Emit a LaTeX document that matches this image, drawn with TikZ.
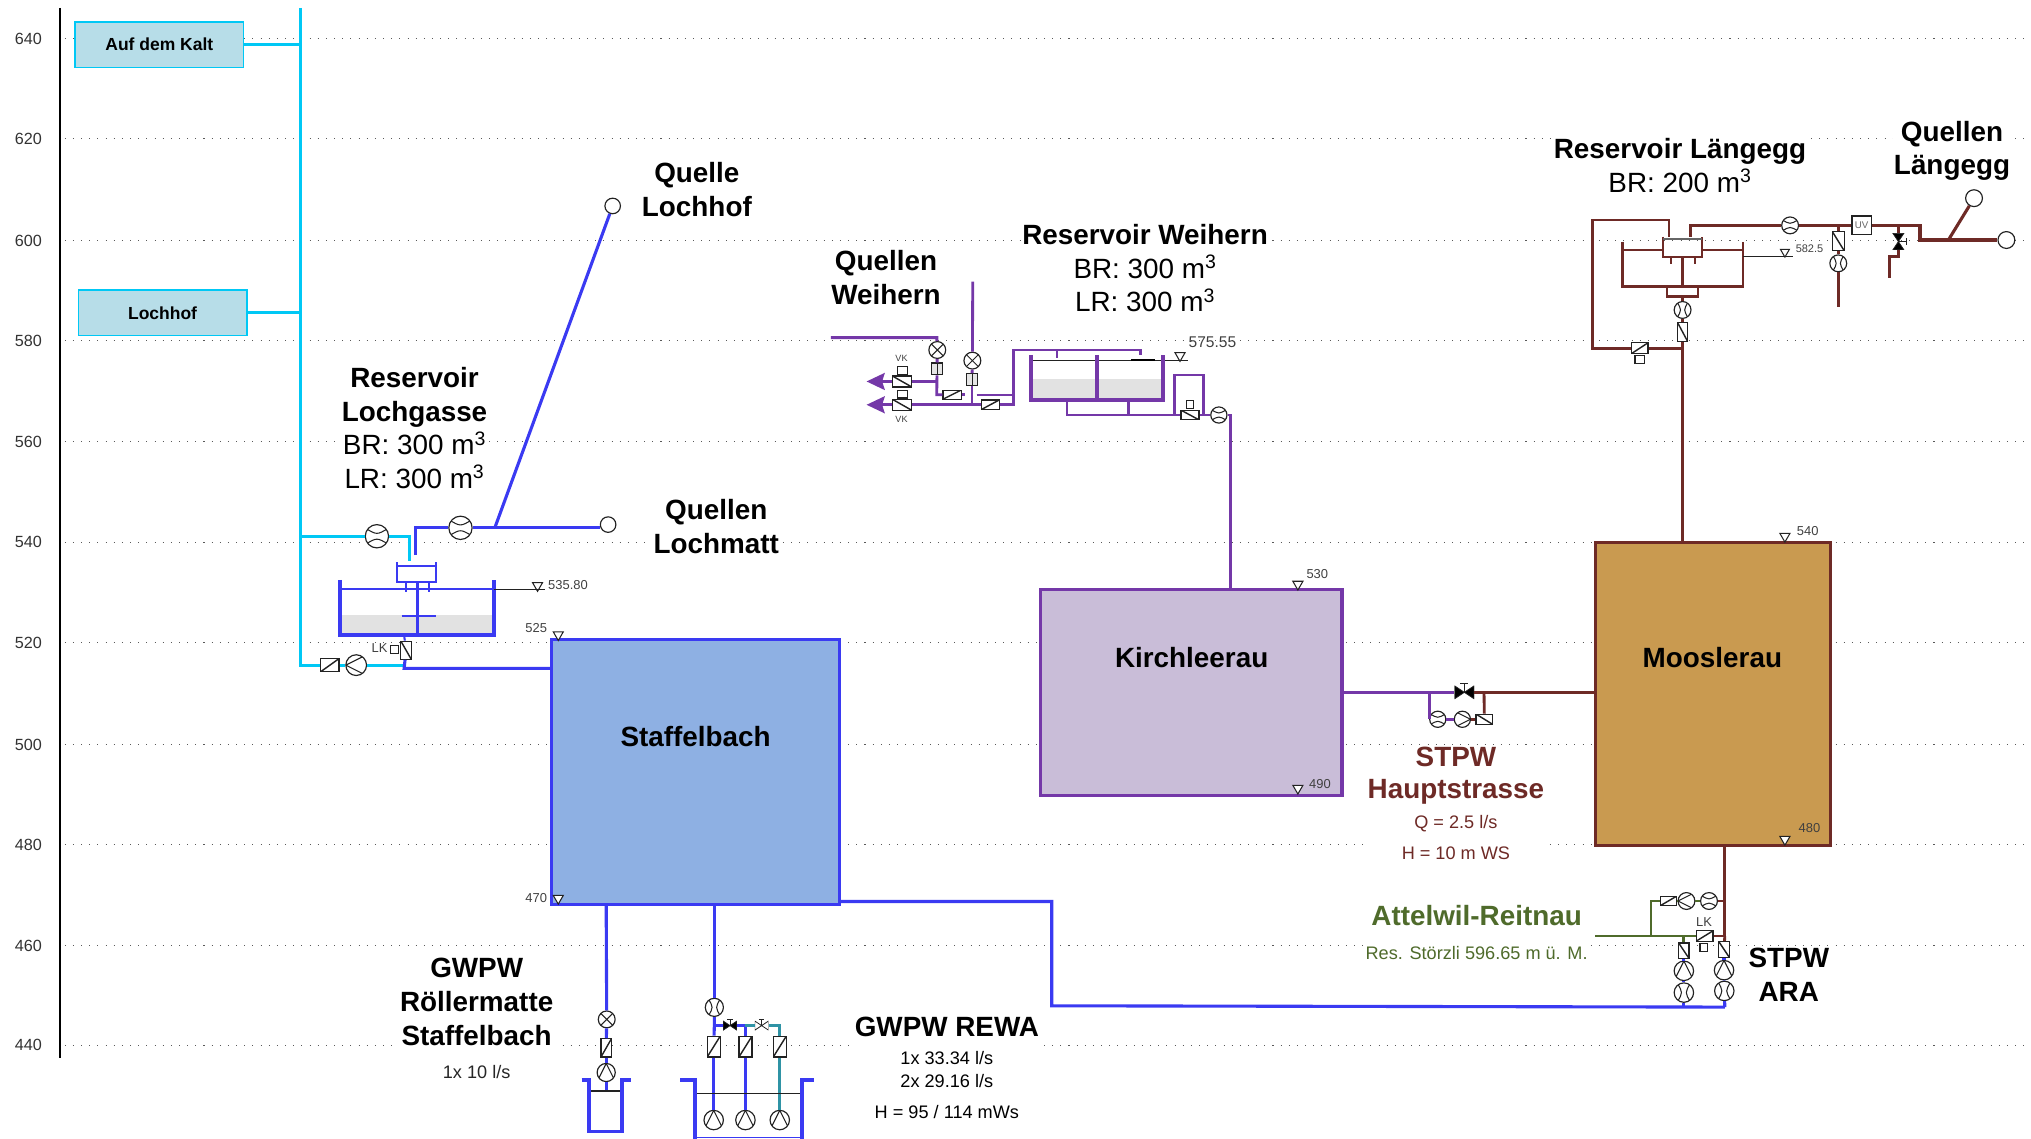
\documentclass[tikz,border=0pt]{standalone}
\usepackage{fontspec}
\setmainfont{Liberation Sans}
\usepackage{tikz}
\usetikzlibrary{arrows.meta, positioning, shapes.geometric}
\definecolor{wcyan}{HTML}{00C8F5}
\definecolor{wblue}{HTML}{3A3AF2}
\definecolor{wteal}{HTML}{2F93A5}
\definecolor{wpurple}{HTML}{7438A8}
\definecolor{wbrown}{HTML}{6E2A26}
\definecolor{wgreen}{HTML}{4F6B2B}
\definecolor{symb}{HTML}{222222}
\definecolor{staffill}{HTML}{8EB0E3}
\definecolor{kirchfill}{HTML}{C9BDD8}
\definecolor{moosfill}{HTML}{C99A50}
\definecolor{hoffill}{HTML}{B7DDE8}
\definecolor{waterfill}{HTML}{E2E2E2}
\newcommand{\ppb}{path picture bounding box}
\newcommand{\smalltxt}{\fontsize{14}{17}\selectfont}
\begin{document}
\begin{tikzpicture}[x=1pt, y=-1pt, >=Stealth,
  griddot/.style={draw=black!65, line width=.7pt, dash pattern=on .8pt off 5.5pt},
  ticklab/.style={font=\fontsize{12.5}{15}\selectfont, text=black!80},
  label/.style={font=\fontsize{21.5}{26}\selectfont\bfseries, align=center, fill=white, inner sep=1pt},
  small/.style={font=\smalltxt, align=center, fill=white, inner sep=1pt, text=black!85},
  tag/.style={font=\fontsize{10}{12}\selectfont, text=black!75, inner sep=0pt},
  hbox/.style={rectangle, draw=wcyan, fill=hoffill, line width=1.3pt, minimum width=130pt, minimum height=35pt, font=\fontsize{13.5}{16}\selectfont\bfseries},
  zone/.style={rectangle, fill=#1, line width=2.5pt, inner sep=0pt},
  zonetxt/.style={font=\fontsize{21.5}{26}\selectfont\bfseries},
  pcyan/.style={draw=wcyan, line width=2.2pt},
  pblue/.style={draw=wblue, line width=2.4pt},
  pteal/.style={draw=wteal, line width=2pt},
  ppurple/.style={draw=wpurple, line width=2.2pt},
  pbrown/.style={draw=wbrown, line width=2.2pt},
  pgreen/.style={draw=wgreen, line width=2.2pt},
  meter/.style={circle, draw=symb, fill=white, line width=.9pt, inner sep=0pt, minimum size=#1, path picture={\draw[symb, line width=.8pt] (-.35*#1,#1/2) .. controls (-.05*#1,0pt) .. (-.35*#1,-#1/2) (.35*#1,#1/2) .. controls (.05*#1,0pt) .. (.35*#1,-#1/2);}},
  meter/.default=14pt,
  xmeter/.style={circle, draw=symb, fill=white, line width=.9pt, inner sep=0pt, minimum size=13pt, path picture={\draw[symb, line width=.8pt] (\ppb.north west) -- (\ppb.south east) (\ppb.north east) -- (\ppb.south west);}},
  pump/.style={circle, draw=symb, fill=white, line width=.9pt, inner sep=0pt, minimum size=#1, path picture={\draw[symb, line width=.8pt] (-#1/2,#1/2) -- (#1/2,0pt) -- (-#1/2,-#1/2);}},
  pump/.default=14pt,
  vbox/.style={rectangle, draw=symb, fill=white, line width=.9pt, inner sep=0pt},
  slash/.style={vbox, path picture={\draw[symb, line width=1.1pt] (\ppb.south west) -- (\ppb.north east);}},
  bslash/.style={vbox, path picture={\draw[symb, line width=1.1pt] (\ppb.north west) -- (\ppb.south east);}},
  wide/.style={minimum width=14pt, minimum height=8pt},
  tall/.style={minimum width=9pt, minimum height=14pt},
  sqbox/.style={vbox, minimum size=6pt},
  filterbox/.style={vbox, fill=black!10, minimum width=9pt, minimum height=9pt, path picture={\draw[symb, line width=.6pt] (\ppb.north) -- (\ppb.south);}},
  source/.style={circle, draw=symb, fill=white, line width=.9pt, inner sep=0pt, minimum size=#1},
  source/.default=13pt,
  gate/.style 2 args={rectangle, inner sep=0pt, minimum width=15pt, minimum height=18pt, scale=#1, path picture={\draw[symb, line width=.8pt] (0pt,0pt) -- (0pt,7pt) (-3pt,7pt) -- (3pt,7pt); \filldraw[draw=symb, fill=#2, line width=.6pt] (-7.5pt,-5pt) -- (7.5pt,5pt) -- (7.5pt,-5pt) -- (-7.5pt,5pt) -- cycle;}},
  lvl/.style={regular polygon, regular polygon sides=3, shape border rotate=180, draw=symb, fill=white, line width=.8pt, inner sep=0pt, minimum size=9pt}]
  \useasboundingbox (0,0) rectangle (1568,878.6);
  \foreach \yy/\lab in {30/640,107/620,186/600,263/580,341/560,418.5/540,496/520,575/500,652/480,730/460,807/440} {
    \draw[griddot] (50,\yy) -- (1568,\yy);
    \node[ticklab] (t\lab) at (22,\yy) {\lab};
  }
  \coordinate (axtop) at (46.5,6);
  \coordinate (axbot) at (46.5,817);
  \draw[line width=1.2pt, black] (axtop) -- (axbot);

  \node[label] (qhof) at (538,146.5) {Quelle\\Lochhof};
  \node[label] (qmatt) at (553,406.5) {Quellen\\Lochmatt};
  \node[label] (qwei) at (684,214.5) {Quellen\\Weihern};
  \node[label] (qlae) at (1507,116.5) {Quellen\\Längegg};
  \node[label] (rlg) at (320,330.5) {Reservoir\\Lochgasse\\\mdseries BR: 300 m\textsuperscript{3}\\\mdseries LR: 300 m\textsuperscript{3}};
  \node[label] (rwe) at (884,207) {Reservoir Weihern\\\mdseries BR: 300 m\textsuperscript{3}\\\mdseries LR: 300 m\textsuperscript{3}};
  \node[label] (rla) at (1297,128) {Reservoir Längegg\\\mdseries BR: 200 m\textsuperscript{3}};
  \node[label, text=wbrown] (stpwh) at (1124,620) {STPW\\[-1pt]Hauptstrasse\\[-3pt]{\smalltxt\mdseries Q = 2.5 l/s}\\[-2pt]{\smalltxt\mdseries H = 10 m WS}};
  \node[label, text=wgreen] (att) at (1140,706.5) {Attelwil-Reitnau};
  \node[small, text=wgreen, below=14pt of att] (res) {Res. Störzli 596.65 m ü. M.};
  \node[label] (stpwa) at (1381,752.5) {STPW\\ARA};
  \node[label] (gwr) at (368,773.5) {GWPW\\Röllermatte\\Staffelbach};
  \node[small] (gwrq) at (368,828) {1x 10 l/s};
  \node[label] (gwre) at (731,824.5) {GWPW REWA\\[-5pt]{\smalltxt\mdseries 1x 33.34 l/s}\\[-8pt]{\smalltxt\mdseries 2x 29.16 l/s}\\[-2pt]{\smalltxt\mdseries H = 95 / 114 mWs}};

  \node[hbox] (kalt) at (123,34.5) {Auf dem Kalt};
  \node[hbox] (lochhof) at (125.5,241.5) {Lochhof};
  \node[zone=staffill, draw=wblue, minimum width=222pt, minimum height=204pt] (staff) at (537,596) {};
  \node[zone=kirchfill, draw=wpurple, minimum width=233pt, minimum height=159pt] (kirch) at (919.5,534.5) {};
  \node[zone=moosfill, draw=wbrown, minimum width=181pt, minimum height=234pt] (moos) at (1322.5,536) {};
  \node[zonetxt] (tstaff) at (537,568.5) {Staffelbach};
  \node[zonetxt] (tkirch) at (920,508) {Kirchleerau};
  \node[zonetxt] (tmoos) at (1322,508) {Mooslerau};

  \coordinate (ctop) at (232,6);
  \coordinate (cbot) at (232,513.5);
  \coordinate (ckalt) at (232,34.5);
  \coordinate (cloch) at (232,241.5);
  \coordinate (cbra) at (232,414);
  \coordinate (cin) at (316,433);
  \coordinate (cout) at (313,513.5);
  \node[meter=18pt, rotate=90] (mlg1) at (291,414) {};
  \node[meter=18pt, rotate=90] (mlg2) at (355.5,407.5) {};
  \node[source=12pt] (smatt) at (469.5,405) {};
  \node[source=12pt] (shof) at (473,159) {};
  \coordinate (bin) at (320.8,428.6);
  \coordinate (bjoin) at (382,407.5);
  \node[slash, wide, minimum height=10pt] (vlg) at (254.7,513.5) {};
  \node[pump=16pt, rotate=180] (plg) at (275,513.5) {};
  \node[bslash, minimum width=8pt, minimum height=14pt] (vlk) at (313.5,502) {};
  \node[sqbox] (slk) at (304.5,501.5) {};
  \node[tag] (tlk) at (293,500) {LK};
  \draw[pcyan] (ctop) -- (cbot) -- (vlg);
  \draw[pcyan] (vlg) -- (plg);
  \draw[pcyan] (plg) -- (cout);
  \draw[pcyan] (kalt) -- (ckalt);
  \draw[pcyan] (lochhof) -- (cloch);
  \draw[pcyan] (cbra) -- (mlg1);
  \draw[pcyan] (mlg1) -| (cin);
  \draw[pblue] (bin) |- (mlg2);
  \draw[pblue] (mlg2) -- (smatt.west |- mlg2);
  \draw[pblue] (bjoin) -- (shof);
  \draw[pblue] (vlk) -- (312,516) -- (staff.west |- 0,516);

  \fill[waterfill] (262.8,475) rectangle (381.3,490.5);
  \draw[wblue, line width=1pt] (262.8,454.8) -- (381.3,454.8);
  \draw[wblue, line width=3pt, line join=miter] (262.8,447.6) -- (262.8,490.5) -- (381.3,490.5) -- (381.3,447.6);
  \draw[wblue, line width=1.6pt] (306.5,434) -- (306.5,449) -- (336.6,449) -- (336.6,434);
  \draw[wblue, line width=1pt] (306.5,437) -- (336.6,437);
  \draw[wblue, line width=1.6pt] (313.6,449) -- (313.6,457);
  \draw[wblue, line width=1.6pt] (331,449) -- (331,457);
  \draw[wblue, line width=2.4pt] (322,449) -- (322,490.5);
  \draw[wblue, line width=2pt] (310,475.6) -- (336.6,475.6);
  \draw[wblue, line width=1.6pt] (312,490.5) -- (vlk);
  \node[lvl] (tlg) at (415,452) {};
  \draw[symb, line width=.8pt] (381.3,454.8) -- (420.7,454.8);
  \node[tag, right=5pt of tlg] {535.80};
  \node[lvl] (tst) at (431,490) {};
  \node[tag] at (414,485) {525};
  \node[lvl] (tsb) at (431,693.5) {};
  \node[tag] at (414,693) {470};

  \node[xmeter] (mrol) at (468.4,787) {};
  \node[slash, tall, minimum width=8pt] (vrol) at (468,809) {};
  \node[pump, rotate=90] (prol) at (468,828) {};
  \coordinate (srol) at (468,698);
  \coordinate (brol) at (468,842.3);
  \draw[pblue] (srol) -- (mrol);
  \draw[pblue] (mrol) -- (vrol);
  \draw[pblue] (vrol) -- (prol);
  \draw[pblue] (prol) -- (brol);
  \draw[symb, line width=.9pt] (455,842.3) -- (480,842.3);
  \draw[wblue, line width=3pt] (449,834) -- (455,834) -- (455,873.5) -- (480,873.5) -- (480,834) -- (487,834);

  \node[meter] (mrew) at (551.5,777.7) {};
  \node[gate={.7}{black}] (grew1) at (563.6,791.8) {};
  \node[gate={.7}{white}] (grew2) at (588,791.8) {};
  \node[slash, tall, minimum width=10pt, minimum height=16pt] (vrew1) at (551,808) {};
  \node[slash, tall, minimum width=10pt, minimum height=16pt] (vrew2) at (575.5,808) {};
  \node[slash, tall, minimum width=10pt, minimum height=16pt] (vrew3) at (602,808) {};
  \node[pump=15pt, rotate=90] (prew1) at (551,864.7) {};
  \node[pump=15pt, rotate=90] (prew2) at (575.5,864.7) {};
  \node[pump=15pt, rotate=90] (prew3) at (602,864.7) {};
  \coordinate (srew) at (551.5,698);
  \coordinate (jrew) at (551.5,791.8);
  \coordinate (jmid) at (575.5,791.8);
  \coordinate (jte) at (602,791.8);
  \draw[pblue] (srew) -- (mrew);
  \draw[pblue] (mrew) -- (jrew) -- (vrew1);
  \draw[pblue] (jrew) -- (grew1);
  \draw[pblue] (grew1) -- (jmid) -- (vrew2);
  \draw[pteal] (jmid) -- (grew2);
  \draw[pteal] (grew2) -- (jte) -- (vrew3);
  \draw[pblue] (vrew1) -- (prew1);
  \draw[pblue] (vrew2) -- (prew2);
  \draw[pteal] (vrew3) -- (prew3);
  \draw[symb, line width=.9pt] (536.6,844) -- (619,844);
  \draw[wblue, line width=3pt] (525,834) -- (536.6,834) -- (536.6,879);
  \draw[wblue, line width=3pt] (619,879) -- (619,834) -- (628.5,834);
  \draw[wblue, line width=.8pt] (536.6,878) -- (619,878);

  \coordinate (sout) at (648,696);
  \coordinate (ccor) at (812,776.5);
  \coordinate (bend) at (1331.6,777.5);
  \coordinate (jara) at (1300,777.5);
  \draw[pblue] (sout) -| (ccor) -- (bend);

  \node[meter=15pt] (mara2) at (1331.2,765) {};
  \node[pump=15pt, rotate=90] (para2) at (1331,749) {};
  \node[bslash, minimum width=8pt, minimum height=12pt] (vara2) at (1331,733) {};
  \node[meter=15pt] (mara1) at (1300,766.3) {};
  \node[pump=15pt, rotate=90] (para1) at (1300,749.5) {};
  \node[bslash, minimum width=8pt, minimum height=12pt] (vara1) at (1300,734) {};
  \draw[pblue] (bend) -- (mara2);
  \draw[pblue] (jara) -- (mara1);
  \draw[pblue] (mara2) -- (para2);
  \draw[pblue] (para2) -- (vara2);
  \draw[pblue] (mara1) -- (para1);
  \draw[pblue] (para1) -- (vara1);

  \coordinate (mbot) at (1331.6,653);
  \coordinate (jup) at (1331.6,695.6);
  \coordinate (jlo) at (1331.6,722.6);
  \node[meter=13pt, rotate=90] (moor) at (1319.4,695.6) {};
  \node[pump=13pt, rotate=180] (poor) at (1302,695.6) {};
  \node[slash, minimum width=12pt, minimum height=7pt] (voor) at (1288,695.6) {};
  \node[slash, minimum width=13pt, minimum height=8pt] (vatt) at (1316,722.6) {};
  \node[sqbox] (satt) at (1315.5,731.5) {};
  \node[tag] (tatt) at (1315.6,711.5) {LK};
  \coordinate (jgr) at (1274.6,722.6);
  \coordinate (jgv) at (1300,722.6);
  \coordinate (gend) at (1231.4,722.6);
  \draw[pbrown] (mbot) -- (jlo) -- (vatt);
  \draw[pbrown] (jlo) -- (vara2);
  \draw[pbrown] (jup) -- (moor);
  \draw[pgreen] (moor) -- (poor);
  \draw[pgreen] (poor) -- (voor);
  \draw[pgreen] (voor) -| (jgr);
  \draw[pgreen] (gend) -- (vatt);
  \draw[pgreen] (jgv) -- (vara1);
  \node[lvl] (tmo) at (1378,414) {};
  \node[tag, right=6pt of tmo, yshift=4pt] {540};
  \node[lvl] (tmb) at (1378,648) {};
  \node[tag] at (1397,639) {480};
  \node[lvl] (tki) at (1002,451) {};
  \node[tag] at (1017,443) {530};
  \node[lvl] (tkb) at (1002,608.5) {};
  \node[tag] at (1019,605) {490};

  \node[gate={1}{black}] (ghpt) at (1130.5,534.5) {};
  \node[meter=12.5pt, rotate=90] (mhpt) at (1110,555.3) {};
  \node[pump=12.5pt] (phpt) at (1129,555.3) {};
  \node[bslash, minimum width=13pt, minimum height=8pt] (vhpt) at (1146,555.3) {};
  \coordinate (kout) at (1036,534.5);
  \coordinate (jhp) at (1103.3,534.5);
  \coordinate (jhb) at (1145.7,534.5);
  \coordinate (mout) at (1232,534.5);
  \draw[ppurple] (kout) -- (ghpt);
  \draw[pbrown] (ghpt) -- (mout);
  \draw[ppurple] (jhp) |- (mhpt);
  \draw[ppurple] (mhpt) -- (phpt);
  \draw[pbrown] (phpt) -- (vhpt);
  \draw[pbrown] (vhpt) -- (jhb);

  \coordinate (wtop) at (641.5,260.7);
  \coordinate (wcor) at (723.2,260.7);
  \coordinate (wup) at (751,217.5);
  \node[xmeter] (mwe1) at (723.6,270.2) {};
  \node[xmeter] (mwe2) at (750.7,278.4) {};
  \node[filterbox] (fwe1) at (723.4,284.8) {};
  \node[filterbox] (fwe2) at (750.4,293) {};
  \node[bslash, minimum width=15pt, minimum height=8.5pt] (vvk1) at (696.4,294.5) {};
  \node[bslash, minimum width=15pt, minimum height=8.5pt] (vvk2) at (696.4,312.5) {};
  \node[sqbox, minimum width=7.5pt] (svk1) at (696.6,285.8) {};
  \node[sqbox, minimum width=7.5pt] (svk2) at (696.6,304.2) {};
  \node[tag, font=\fontsize{7}{8}\selectfont] (tvk1) at (696,276.6) {VK};
  \node[tag, font=\fontsize{7}{8}\selectfont] (tvk2) at (696,323.7) {VK};
  \node[slash, minimum width=14pt, minimum height=7pt] (vwe1) at (735,304.7) {};
  \node[slash, minimum width=14pt, minimum height=7.5pt] (vwe2) at (764.5,312.5) {};
  \coordinate (warr1) at (669,294.5);
  \coordinate (warr2) at (669,312.5);
  \coordinate (jwe1) at (723.2,294.5);
  \coordinate (jwe2) at (723.2,304.7);
  \coordinate (wend) at (745,304.7);
  \coordinate (jwe3) at (750.4,312.5);
  \coordinate (wsta) at (754,305);
  \coordinate (wcol) at (782.3,312.5);
  \coordinate (wjn) at (782.3,305);
  \coordinate (wtc) at (782.3,270.2);
  \coordinate (wrg) at (880.6,270.2);
  \coordinate (wrd) at (880.6,274);
  \draw[ppurple, line width=2.4pt] (wtop) -- (wcor) -- (mwe1);
  \draw[ppurple] (mwe1) -- (fwe1);
  \draw[ppurple] (fwe1) -- (jwe2) -- (vwe1);
  \draw[ppurple] (vwe1) -- (wend);
  \draw[ppurple] (jwe1) -- (vvk1);
  \draw[ppurple] (wup) -- (mwe2);
  \draw[ppurple] (mwe2) -- (fwe2);
  \draw[ppurple] (fwe2) -- (jwe3);
  \draw[ppurple] (vvk2) -- (vwe2);
  \draw[ppurple] (vwe2) -- (wcol) -- (wtc) -- (wrg) -- (wrd);
  \draw[ppurple] (wsta) -- (wjn);
  \draw[ppurple, -{Stealth[length=14pt, width=13pt, inset=2pt]}] (vvk1) -- (warr1);
  \draw[ppurple, -{Stealth[length=14pt, width=13pt, inset=2pt]}] (vvk2) -- (warr2);

  \fill[waterfill] (795.7,292.8) rectangle (898,308);
  \draw[symb, line width=.9pt] (795.7,278) -- (917.4,278);
  \draw[black, line width=1.6pt] (873,278) -- (892,278);
  \draw[wpurple, line width=1.5pt] (816,270.2) -- (816,276);
  \draw[wpurple, line width=3pt] (795.7,274) -- (795.7,308.8) -- (898,308.8) -- (898,274);
  \draw[wpurple, line width=3pt] (846.7,274) -- (846.7,308.8);
  \node[lvl] (twe) at (911,274.5) {};
  \node[tag, font=\fontsize{12}{14}\selectfont] at (936,264) {575.55};
  \node[bslash, minimum width=14pt, minimum height=7.5pt] (vwe3) at (918.7,320.4) {};
  \node[sqbox, minimum width=6pt] (swe3) at (918.7,312.5) {};
  \node[meter=12.5pt, rotate=90] (mwe3) at (941,320.4) {};
  \coordinate (wb1) at (823.8,308.8);
  \coordinate (wb2) at (871,308.8);
  \coordinate (wb3) at (823.8,320.4);
  \coordinate (wb4) at (871,320.4);
  \coordinate (wby1) at (907,320.4);
  \coordinate (wby2) at (929,320.4);
  \coordinate (wko) at (950,320.4);
  \coordinate (wki) at (950,455);
  \draw[ppurple] (wb1) -- (wb3) -- (vwe3);
  \draw[ppurple] (wb2) -- (wb4);
  \draw[ppurple] (wby1) -- (907,289.5) -- (929,289.5) -- (wby2);
  \draw[ppurple] (vwe3) -- (mwe3);
  \draw[ppurple] (mwe3) -- (wko) -- (wki);

  \coordinate (mtop) at (1299,419);
  \coordinate (mjn) at (1299,268.9);
  \coordinate (lup) at (1229.3,169.8);
  \coordinate (lrt) at (1288.5,169.8);
  \coordinate (lin) at (1288.5,182.7);
  \coordinate (lbot) at (1229.3,268.9);
  \node[bslash, minimum width=8pt, minimum height=15pt] (vla1) at (1299,256.3) {};
  \node[meter=13pt] (mla1) at (1299,239.3) {};
  \node[slash, minimum width=13pt, minimum height=8.5pt] (vla2) at (1265.8,268.9) {};
  \node[sqbox, minimum width=7pt] (sla2) at (1265.8,277.5) {};
  \draw[pbrown] (mtop) -- (vla1);
  \draw[pbrown] (vla1) -- (mla1);
  \draw[pbrown] (mla1) -- (1299,229);
  \draw[pbrown] (mjn) -- (vla2);
  \draw[pbrown] (vla2) -- (lbot) -- (lup) -- (lrt) -- (lin);
  \draw[wbrown, line width=1.8pt] (1287,222.6) -- (1287,229) -- (1311,229) -- (1311,222.6);
  \draw[wbrown, line width=1.8pt] (1252.5,186.6) -- (1252.5,221.3) -- (1345.8,221.3) -- (1345.8,186.6);
  \draw[wbrown, line width=1pt] (1252.5,193) -- (1284,193) (1313.8,193) -- (1345.8,193);
  \draw[wbrown, line width=1.8pt] (1284,182.7) -- (1284,198.2) -- (1313.8,198.2) -- (1313.8,182.7);
  \draw[black!60, line width=.9pt] (1284,184.5) -- (1313.8,184.5);
  \draw[wbrown, line width=1.6pt] (1290,198) -- (1290,204) (1308.7,198) -- (1308.7,204);
  \draw[wbrown, line width=1.8pt] (1299,198.2) -- (1299,221.3);
  \draw[symb, line width=.7pt] (1345.8,197.6) -- (1384,197.6);
  \node[lvl, minimum size=8pt] (tla) at (1378,194.5) {};
  \node[tag, font=\fontsize{8.5}{10}\selectfont] at (1397,192) {582.5};

  \coordinate (lfr) at (1305,182.7);
  \coordinate (lri) at (1482.3,174);
  \coordinate (lriv) at (1482.3,185.3);
  \coordinate (ljq) at (1504.2,185.3);
  \coordinate (ljm) at (1419.2,174);
  \coordinate (ljg) at (1465.6,174);
  \coordinate (ldn) at (1458.6,214.9);
  \coordinate (lbr) at (1419.2,236.8);
  \node[meter=13pt, rotate=90] (mla2) at (1382,174) {};
  \node[vbox, minimum width=15pt, minimum height=14.5pt, font=\fontsize{7.5}{9}\selectfont, text=black!60] (uv) at (1437.3,174) {UV};
  \node[bslash, minimum width=9pt, minimum height=14.5pt] (vla3) at (1419.2,186.2) {};
  \node[meter=13pt] (mla3) at (1419.2,203.3) {};
  \node[gate={.85}{black}, rotate=-90] (gla) at (1465.6,186.5) {};
  \node[source=13pt] (sla1) at (1549,185.3) {};
  \node[source=13pt] (sla2b) at (1524,153) {};
  \draw[pbrown, line width=2.4pt] (lfr) |- (mla2);
  \draw[pbrown, line width=2.4pt] (mla2) -- (uv);
  \draw[pbrown, line width=2.4pt] (uv) -- (lri) -- (lriv) -- (sla1);
  \draw[pbrown, line width=2.4pt] (ljq) -- (sla2b);
  \draw[pbrown] (ljm) -- (vla3);
  \draw[pbrown] (vla3) -- (mla3);
  \draw[pbrown] (mla3) -- (lbr);
  \draw[pbrown] (ljg) -- (gla);
  \draw[pbrown] (gla) -- (1465.6,198) -| (ldn);
\end{tikzpicture}
\end{document}
